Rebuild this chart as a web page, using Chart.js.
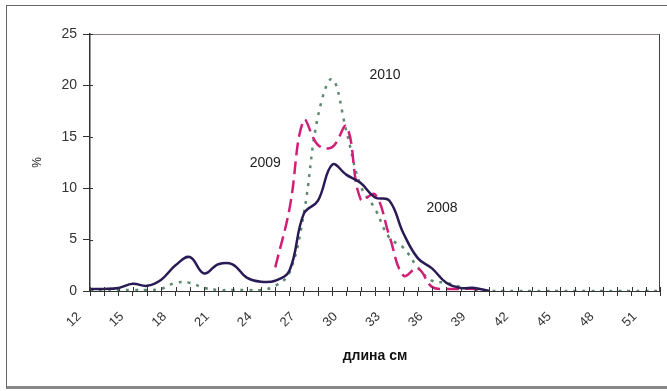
<!DOCTYPE html>
<html>
<head>
<meta charset="utf-8">
<script src="https://cdn.jsdelivr.net/npm/chart.js@4"></script>
<style>
  html, body { margin: 0; padding: 0; background: #fff; }
  #wrap { position: relative; width: 667px; height: 391px; overflow: hidden; }
  #frame { position: absolute; left: 6px; top: 5px; width: 700px; height: 380px;
           border: 1px solid #666; border-bottom: 3px solid #888; }
  #c { position: absolute; left: 0; top: 0; }
</style>
</head>
<body>
<div id="wrap">
  <div id="frame"></div>
  <canvas id="c" width="667" height="391"></canvas>
</div>
<script>
// длина, см
var lengths = [12,13,14,15,16,17,18,19,20,21,22,23,24,25,26,27,28,29,30,31,32,
               33,34,35,36,37,38,39,40,41,42,43,44,45,46,47,48,49,50,51,52];

var s2008 = [0.2,0.2,0.3,0.7,0.5,1.1,2.5,3.3,1.7,2.6,2.6,1.3,0.9,1.0,2.0,7.5,8.8,12.3,11.3,10.5,9.1,
             8.8,5.6,3.2,2.2,0.8,0.3,0.3,0,null,null,null,null,null,null,null,null,null,null,null,null];

var s2009 = [null,null,null,null,null,null,null,null,null,null,null,null,null,2.3,8.0,16.6,14.2,14.0,16.0,8.9,9.4,
             5.4,1.5,2.2,0.4,0.2,0.2,0.2,0,null,null,null,null,null,null,null,null,null,null,null,null];

var s2010 = [0.1,0.1,0.1,0.1,0.1,0.2,0.8,0.8,0.3,0.1,0.1,0.1,0.1,0.5,1.8,7.5,17.0,20.6,15.5,10.2,8.0,
             5.2,4.2,2.3,1.0,0.8,0.4,0.1,0,0,0,0,0,0,0,0,0,0,0,0,0];

var yTicks = [0, 5, 10, 15, 20, 25];

// подписи серий (в координатах данных)
var seriesNames = ['2008', '2009', '2010'];
var nameAtLength = [36.7, 24.3, 32.7];
var nameAtValue = [8.1, 12.45, 21.0];

var FONT = '"Liberation Sans", Arial, sans-serif';

var frameAndNames = {
    id: 'frameAndNames',
    afterDatasetsDraw: function (chart) {
        var ctx = chart.ctx, a = chart.chartArea;
        var xs = chart.scales.x, ys = chart.scales.y;
        ctx.save();
        ctx.strokeStyle = '#8a7f80';
        ctx.lineWidth = 1;
        ctx.beginPath();
        ctx.moveTo(a.left, a.top + 0.5);
        ctx.lineTo(a.right, a.top + 0.5);
        ctx.stroke();
        ctx.strokeStyle = '#444';
        ctx.beginPath();
        ctx.moveTo(a.right - 0.5, a.top);
        ctx.lineTo(a.right - 0.5, a.bottom);
        ctx.stroke();

        // засечки, пересекающие оси
        ctx.strokeStyle = '#333';
        ctx.beginPath();
        xs.ticks.forEach(function (t, i) {
            var px = Math.round(xs.getPixelForTick(i)) + 0.5;
            ctx.moveTo(px, a.bottom - 4);
            ctx.lineTo(px, a.bottom);
        });
        ys.ticks.forEach(function (t, i) {
            var py = Math.round(ys.getPixelForTick(i)) + 0.5;
            ctx.moveTo(a.left, py);
            ctx.lineTo(a.left + 3, py);
        });
        ctx.stroke();

        ctx.fillStyle = '#222';
        ctx.font = '14px ' + FONT;
        ctx.textAlign = 'center';
        ctx.textBaseline = 'middle';
        seriesNames.forEach(function (name, i) {
            var px = xs.getPixelForValue(nameAtLength[i] - lengths[0]);
            var py = ys.getPixelForValue(nameAtValue[i]);
            ctx.fillText(name, px, py);
        });
        ctx.restore();
    }
};

new Chart(document.getElementById('c'), {
    type: 'line',
    data: {
        labels: lengths.map(String),
        datasets: [{
            label: '2008',
            data: s2008,
            borderColor: '#2a1a56',
            borderWidth: 2.5,
            tension: 0.4,
            pointRadius: 0,
            order: 1
        }, {
            label: '2009',
            data: s2009,
            borderColor: '#d11f78',
            borderWidth: 2.5,
            borderDash: [13, 6],
            tension: 0.4,
            pointRadius: 0,
            order: 2
        }, {
            label: '2010',
            data: s2010,
            borderColor: '#5d8a6e',
            borderWidth: 2.5,
            borderDash: [3, 6],
            tension: 0.4,
            pointRadius: 0,
            order: 3
        }]
    },
    options: {
        responsive: false,
        animation: false,
        layout: { padding: { top: 34, right: 7, left: 0, bottom: 0 } },
        plugins: { legend: { display: false }, tooltip: { enabled: false } },
        scales: {
            x: {
                offset: false,
                afterFit: function (s) {
                    s.height = 100;
                    s.paddingLeft = 0;
                    s.paddingRight = 0;
                },
                grid: { drawOnChartArea: false, drawTicks: true, tickLength: 5, color: '#333' },
                border: { color: '#333', width: 1 },
                ticks: {
                    autoSkip: false,
                    minRotation: 45,
                    maxRotation: 45,
                    padding: 13,
                    labelOffset: -11,
                    color: '#333',
                    font: { family: FONT, size: 13 },
                    callback: function (v, i) {
                        return (lengths[i] - lengths[0]) % 3 === 0 && lengths[i] <= 51 ? String(lengths[i]) : '';
                    }
                },
                title: {
                    display: true,
                    text: 'длина см',
                    color: '#111',
                    font: { family: FONT, size: 14, weight: 'bold' },
                    padding: { top: 0, bottom: 26 }
                }
            },
            y: {
                min: 0,
                max: 25,
                afterFit: function (s) { s.width = 90; },
                afterBuildTicks: function (s) {
                    s.ticks = yTicks.map(function (v) { return { value: v }; });
                },
                grid: { drawOnChartArea: false, drawTicks: true, tickLength: 7, color: '#333' },
                border: { color: '#333', width: 1.5 },
                ticks: {
                    padding: 6,
                    color: '#333',
                    font: { family: FONT, size: 14 }
                },
                title: {
                    display: true,
                    text: '%',
                    color: '#222',
                    font: { family: FONT, size: 12 },
                    padding: { top: 30, bottom: 0 }
                }
            }
        }
    },
    plugins: [frameAndNames]
});
</script>
</body>
</html>
